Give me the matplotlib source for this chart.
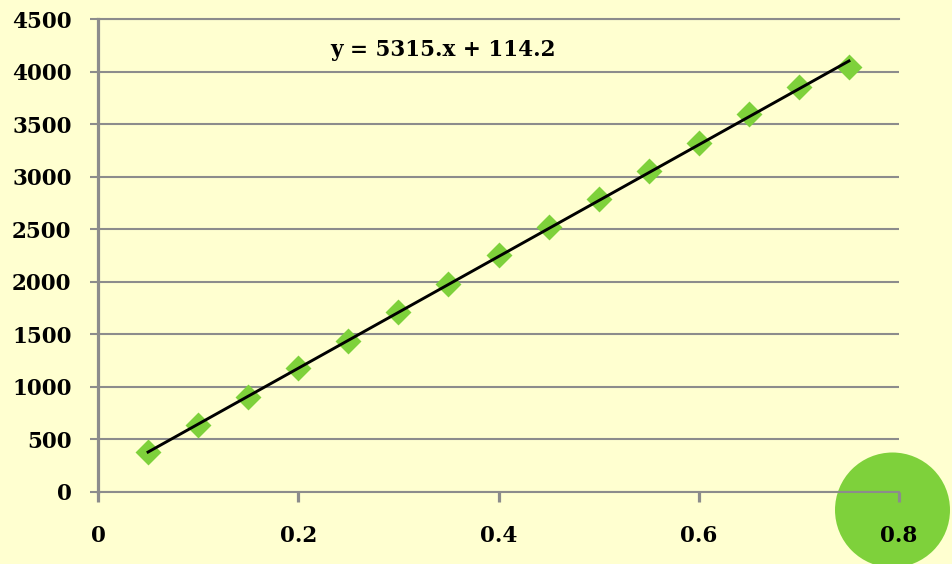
import matplotlib
matplotlib.use("Agg")
import matplotlib.pyplot as plt
from matplotlib.patches import Ellipse

# measured points
x_vals = [0.05, 0.10, 0.15, 0.20, 0.25, 0.30, 0.35, 0.40,
          0.45, 0.50, 0.55, 0.60, 0.65, 0.70, 0.75]
y_vals = [381, 637, 904, 1180, 1437, 1713, 1979, 2255,
          2521, 2788, 3054, 3321, 3597, 3853, 4044]

# linear trend
slope = 5315.0
intercept = 114.2

x_ticks = [0, 0.2, 0.4, 0.6, 0.8]
x_tick_labels = ["0", "0.2", "0.4", "0.6", "0.8"]
y_ticks = list(range(0, 5000, 500))

bg = "#FFFFD0"
green = "#7ED13B"
gray = "#8C8C8C"
W, H = 952, 564

fig = plt.figure(figsize=(W / 100, H / 100), dpi=100, facecolor=bg)
ax = fig.add_axes([98 / W, 72 / H, 801 / W, 473 / H])
ax.set_facecolor("none")

# big decorative disc in the lower right corner
disc = Ellipse((892.5 / W, 1 - 510 / H), 115 / W, 115 / H,
               transform=fig.transFigure, facecolor=green,
               edgecolor="none", zorder=-1)
fig.add_artist(disc)

ax.plot(x_vals, y_vals, linestyle="none", marker="D", markersize=11,
        color=green, markeredgecolor=green, markeredgewidth=2,
        zorder=3)
xt = [x_vals[0], x_vals[-1]]
ax.plot(xt, [slope * v + intercept for v in xt], color="black",
        linewidth=2.1, zorder=4)

ax.text(0.345, 4205, f"y = {slope:.0f}.x + {intercept}", ha="center",
        va="center", fontsize=15.5, family="DejaVu Serif", weight="bold")

ax.set_xlim(0, 0.8)
ax.set_ylim(0, 4500)
ax.set_xticks(x_ticks)
ax.set_xticklabels(x_tick_labels)
ax.set_yticks(y_ticks)

ax.yaxis.grid(True, color=gray, linewidth=1.5)
ax.set_axisbelow(True)
ax.spines["right"].set_visible(False)
ax.spines["left"].set_color(gray)
ax.spines["left"].set_linewidth(2.3)
ax.spines["bottom"].set_color(gray)
ax.spines["bottom"].set_linewidth(1.5)
ax.spines["top"].set_color(gray)
ax.spines["top"].set_linewidth(1.5)

ax.tick_params(axis="x", direction="out", length=7.5, width=2.3,
               color=gray, pad=16)
ax.tick_params(axis="y", direction="out", length=6, width=1.5,
               color=gray, pad=13)
for lbl in ax.get_xticklabels() + ax.get_yticklabels():
    lbl.set_family("DejaVu Serif")
    lbl.set_weight("bold")
    lbl.set_fontsize(15.5)

fig.savefig("out.png", dpi=100, facecolor=bg)
